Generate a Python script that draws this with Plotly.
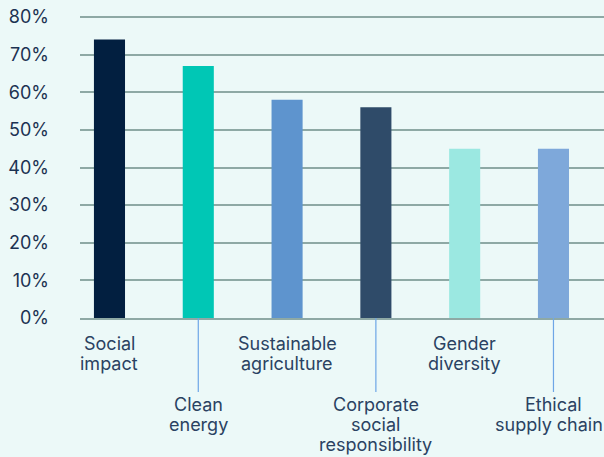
import plotly.graph_objects as go

# Share of respondents prioritising each ESG theme
categories = ["Social impact", "Clean energy", "Sustainable agriculture",
              "Corporate social responsibility", "Gender diversity", "Ethical supply chain"]
values = [74, 67, 58, 56, 45, 45]
bar_colors = ["#021F40", "#00C7B5", "#5E94CE", "#2F4B69", "#9BE8E1", "#7EA8DA"]

# Category labels split into display lines; every other label sits lower
label_lines = [["Social", "impact"], ["Clean", "energy"], ["Sustainable", "agriculture"],
               ["Corporate", "social", "responsibility"], ["Gender", "diversity"],
               ["Ethical", "supply chain"]]
lowered = [False, True, False, True, False, True]

y_ticks = [0, 10, 20, 30, 40, 50, 60, 70, 80]
y_ticktext = [f"{v}%" for v in y_ticks]

BG = "#ECF9F8"
GRID = "#8EA9A5"
TEXT = "#2A4262"
FONT = "Inter"

fig = go.Figure(go.Bar(
    x=categories,
    y=values,
    marker=dict(color=bar_colors, line=dict(width=0)),
    hoverinfo="skip",
))

annotations = []
line_gap = 20
last = categories[-1]
for cat, lines, low in zip(categories, label_lines, lowered):
    first_offset = 86 if low else 25
    # keep the right-most label inside the canvas
    nudge = -4 if cat == last else 0
    for i, line in enumerate(lines):
        offset = first_offset + i * line_gap
        if low and i == 0:
            annotations.append(dict(
                x=cat, y=0, xref="x", yref="y", text=line,
                showarrow=True, ax=0, ay=offset, arrowhead=0, arrowwidth=1.2,
                arrowcolor="#6EA6E6", standoff=0, startstandoff=0,
                font=dict(family=FONT, size=18, color=TEXT),
            ))
        else:
            annotations.append(dict(
                x=cat, y=0, xref="x", yref="y", text=line,
                showarrow=False, yanchor="middle", xanchor="center",
                yshift=-offset, xshift=nudge,
                font=dict(family=FONT, size=18, color=TEXT),
            ))

fig.update_layout(
    width=604, height=457,
    margin=dict(l=80, r=0, t=15, b=139),
    paper_bgcolor=BG, plot_bgcolor=BG,
    bargap=0.65,
    showlegend=False,
    font=dict(family=FONT, size=18, color=TEXT),
    annotations=annotations,
    xaxis=dict(
        range=[-0.332, 5.569], showticklabels=False, showgrid=False,
        showline=True, linecolor=GRID, linewidth=1.5, ticks="", zeroline=False,
        fixedrange=True,
    ),
    yaxis=dict(
        range=[0, 80.53], tickvals=y_ticks, ticktext=y_ticktext,
        showgrid=True, gridcolor=GRID, gridwidth=1.5, zeroline=False,
        showline=False, ticks="", ticklabelstandoff=30,
        tickfont=dict(family=FONT, size=18, color="#1C3252"),
        fixedrange=True,
    ),
)

fig.write_html("out.html")
